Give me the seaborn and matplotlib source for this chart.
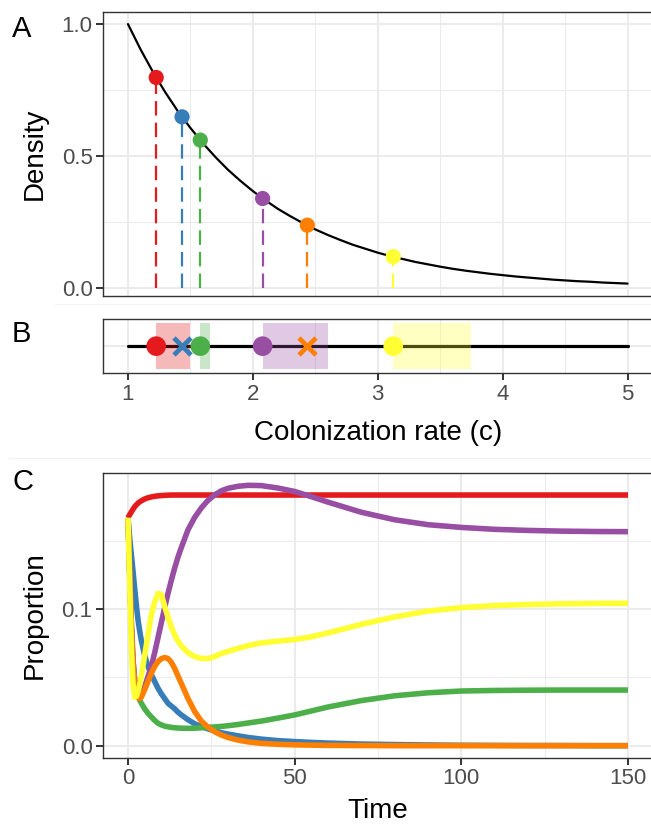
import matplotlib
matplotlib.use("Agg")
import matplotlib.pyplot as plt
import seaborn as sns
import pandas as pd
from matplotlib.ticker import FixedLocator
from matplotlib.lines import Line2D

sns.set_theme(style="white")
plt.rcParams["font.family"] = ["Liberation Sans", "DejaVu Sans"]

# ---------------- data ----------------
species = ["s1", "s2", "s3", "s4", "s5", "s6"]
colors = ["#E41A1C", "#377EB8", "#4DAF4A", "#984EA3", "#FF7F00", "#FFFF33"]

# Panel A: density curve over colonization rate
c_grid = [1.0, 1.1, 1.2, 1.3, 1.4, 1.5, 1.6, 1.7, 1.8, 1.9, 2.0, 2.1, 2.2, 2.3,
          2.4, 2.5, 2.6, 2.7, 2.8, 2.9, 3.0, 3.1, 3.2, 3.3, 3.4, 3.5, 3.6, 3.7,
          3.8, 3.9, 4.0, 4.1, 4.2, 4.3, 4.4, 4.5, 4.6, 4.7, 4.8, 4.9, 5.0]
density_curve = [1.000, 0.905, 0.819, 0.741, 0.670, 0.607, 0.549, 0.497, 0.449,
                 0.407, 0.368, 0.333, 0.301, 0.273, 0.247, 0.223, 0.202, 0.183,
                 0.165, 0.150, 0.135, 0.122, 0.111, 0.100, 0.091, 0.082, 0.074,
                 0.067, 0.061, 0.055, 0.050, 0.045, 0.041, 0.037, 0.033, 0.030,
                 0.027, 0.025, 0.022, 0.020, 0.018]

# species colonization rates and densities
sp_c = [1.226, 1.433, 1.579, 2.078, 2.436, 3.124]
sp_density = [0.798, 0.649, 0.561, 0.340, 0.239, 0.120]

# Panel B: survival and niche extent
sp_survives = [True, False, True, True, False, True]
sp_niche_end = [1.50, None, 1.66, 2.60, None, 3.75]

# Panel C: time series of proportions
time = [0, 0.5, 1, 1.5, 2, 2.5, 3, 3.5, 4, 5, 6, 7, 8, 9, 10, 11, 12, 13, 14, 15,
        16, 18, 20, 22, 24, 26, 28, 30, 33, 36, 40, 45, 50, 55, 60, 70, 80, 90,
        100, 110, 120, 130, 140, 150]
prop_red = [0.1667, 0.169, 0.171, 0.173, 0.1748, 0.1762, 0.1774, 0.1784, 0.1792,
            0.1805, 0.1814, 0.182, 0.1825, 0.1828, 0.183, 0.1832, 0.1833, 0.1834,
            0.1834, 0.1834, 0.1834, 0.1834, 0.1834, 0.1834, 0.1834, 0.1834,
            0.1834, 0.1834, 0.1834, 0.1834, 0.1834, 0.1834, 0.1834, 0.1834,
            0.1834, 0.1834, 0.1834, 0.1834, 0.1834, 0.1834, 0.1834, 0.1834,
            0.1834, 0.1834]
prop_blue = [0.1667, 0.152, 0.14, 0.128, 0.115, 0.103, 0.092, 0.084, 0.077, 0.066,
             0.058, 0.052, 0.047, 0.042, 0.038, 0.0345, 0.031, 0.029, 0.027,
             0.0245, 0.0225, 0.019, 0.016, 0.014, 0.0123, 0.0108, 0.0095, 0.0085,
             0.0072, 0.006, 0.0048, 0.0037, 0.003, 0.0024, 0.0019, 0.0012, 0.0008,
             0.0005, 0.0003, 0.0002, 0.0001, 0.0001, 0.0, 0.0]
prop_green = [0.1667, 0.125, 0.088, 0.062, 0.048, 0.041, 0.0365, 0.0335, 0.031,
              0.027, 0.0237, 0.021, 0.0185, 0.0164, 0.0152, 0.0143, 0.0138,
              0.0134, 0.0131, 0.0129, 0.0128, 0.0127, 0.0128, 0.0131, 0.0134,
              0.0137, 0.0141, 0.0146, 0.0155, 0.0166, 0.018, 0.0202, 0.0225,
              0.0254, 0.0283, 0.033, 0.0365, 0.0387, 0.040, 0.0404, 0.0406,
              0.0407, 0.0407, 0.0407]
prop_purple = [0.1667, 0.128, 0.09, 0.063, 0.048, 0.04, 0.037, 0.0365, 0.038,
               0.043, 0.0505, 0.058, 0.068, 0.079, 0.09, 0.101, 0.1115, 0.121,
               0.13, 0.138, 0.145, 0.158, 0.167, 0.174, 0.1795, 0.1835, 0.1865,
               0.1883, 0.1898, 0.1905, 0.1903, 0.1885, 0.186, 0.1822, 0.1782,
               0.1708, 0.1653, 0.1617, 0.1597, 0.1583, 0.1575, 0.157, 0.1567,
               0.1566]
prop_orange = [0.1667, 0.128, 0.088, 0.06, 0.045, 0.038, 0.035, 0.0345, 0.0355,
               0.041, 0.047, 0.053, 0.058, 0.0615, 0.0637, 0.0645, 0.0638, 0.061,
               0.0565, 0.051, 0.0455, 0.0345, 0.025, 0.018, 0.0135, 0.0102,
               0.0078, 0.006, 0.0041, 0.0028, 0.0017, 0.001, 0.0006, 0.0004,
               0.0002, 0.0001, 0.0, 0.0, 0.0, 0.0, 0.0, 0.0, 0.0, 0.0]
prop_yellow = [0.1667, 0.118, 0.072, 0.045, 0.0355, 0.036, 0.0395, 0.045, 0.051,
               0.066, 0.081, 0.096, 0.105, 0.1115, 0.1105, 0.102, 0.094, 0.087,
               0.081, 0.0765, 0.073, 0.068, 0.0652, 0.0638, 0.0637, 0.0652,
               0.0675, 0.069, 0.0712, 0.0732, 0.0752, 0.0765, 0.0777, 0.0797,
               0.0825, 0.0888, 0.0942, 0.0985, 0.1010, 0.1025, 0.1033, 0.1038,
               0.1041, 0.1042]

# ---------------- figure ----------------
W, H = 651, 824
fig = plt.figure(figsize=(W / 100, H / 100), dpi=100)


def box(l, t, r, b):
    return [l / W, 1 - b / H, (r - l) / W, (b - t) / H]


axA = fig.add_axes(box(103, 11.7, 652.5, 296))
axB = fig.add_axes(box(103, 319, 652.5, 373.3))
axC = fig.add_axes(box(103, 473.3, 653, 757.7))

# faint plot-background separators
fig.add_artist(Line2D([55 / W, 1], [1 - 304 / H] * 2, color="#F3F3F3", lw=0.8))
fig.add_artist(Line2D([8 / W, 1], [1 - 458 / H] * 2, color="#F3F3F3", lw=0.8))

GRID = "#EBEBEB"
TICKLAB = "#4D4D4D"
FRAME = "#333333"
TICKSIZE = 16
TITLESIZE = 20


def style(ax, xmaj, xmin, ymaj, ymin):
    ax.set_facecolor("white")
    for s in ax.spines.values():
        s.set_color(FRAME)
        s.set_linewidth(1.0)
        s.set_visible(True)
    ax.xaxis.set_major_locator(FixedLocator(xmaj))
    ax.xaxis.set_minor_locator(FixedLocator(xmin))
    ax.yaxis.set_major_locator(FixedLocator(ymaj))
    ax.yaxis.set_minor_locator(FixedLocator(ymin))
    ax.grid(which="major", color=GRID, lw=1.5)
    ax.grid(which="minor", color=GRID, lw=0.75)
    ax.set_axisbelow(True)
    ax.tick_params(which="major", labelsize=TICKSIZE, labelcolor=TICKLAB,
                   color=FRAME, length=5, width=1.4, pad=2.5,
                   bottom=True, left=True)
    ax.tick_params(which="minor", length=0)


# ---- Panel A ----
style(axA, [1, 2, 3, 4, 5], [1.5, 2.5, 3.5, 4.5], [0.0, 0.5, 1.0], [0.25, 0.75])
sns.lineplot(x=c_grid, y=density_curve, color="black", lw=1.6, ax=axA,
             sort=False, estimator=None)
for c, d, col in zip(sp_c, sp_density, colors):
    axA.vlines(c, 0, d, colors=col, lw=1.6, linestyles=(0, (6.5, 3.2)), zorder=2)
sns.scatterplot(x=sp_c, y=sp_density, hue=species, palette=colors, s=120,
                linewidth=0, legend=False, ax=axA, zorder=4)
axA.set_xlim(0.8, 5.2)
axA.set_ylim(-0.029, 1.047)
axA.set_yticklabels(["0.0", "0.5", "1.0"], fontsize=TICKSIZE)
axA.tick_params(axis="x", length=0, labelbottom=False)
axA.set_xlabel("")
axA.set_ylabel("Density", fontsize=TITLESIZE, color="black")
axA.yaxis.set_label_coords(-0.100, 0.5)

# ---- Panel B ----
style(axB, [1, 2, 3, 4, 5], [1.5, 2.5, 3.5, 4.5], [0.0], [])
sns.lineplot(x=[c_grid[0], c_grid[-1]], y=[0, 0], color="black", lw=2.3,
             ax=axB, sort=False, estimator=None)
for c, e, col, alive in zip(sp_c, sp_niche_end, colors, sp_survives):
    if alive:
        axB.axvspan(c, e, ymin=0.075, ymax=0.925, color=col, alpha=0.3, lw=0,
                    zorder=3)
alive_c = [c for c, a in zip(sp_c, sp_survives) if a]
alive_col = [col for col, a in zip(colors, sp_survives) if a]
alive_sp = [s for s, a in zip(species, sp_survives) if a]
dead_c = [c for c, a in zip(sp_c, sp_survives) if not a]
dead_col = [col for col, a in zip(colors, sp_survives) if not a]
sns.scatterplot(x=alive_c, y=[0] * len(alive_c), hue=alive_sp,
                palette=alive_col, s=200, linewidth=0, legend=False, ax=axB,
                zorder=5)
for c, col in zip(dead_c, dead_col):
    axB.scatter([c], [0], marker="x", s=150, color=col, linewidths=3.4,
                zorder=5)
axB.set_xlim(0.8, 5.2)
axB.set_ylim(-1, 1)
axB.set_xticklabels(["1", "2", "3", "4", "5"], fontsize=TICKSIZE)
axB.tick_params(axis="y", length=0, labelleft=False)
axB.set_ylabel("")
axB.set_xlabel("Colonization rate (c)", fontsize=TITLESIZE, color="black")
axB.xaxis.set_label_coords(0.5, -0.855)

# ---- Panel C ----
style(axC, [0, 50, 100, 150], [25, 75, 125], [0.0, 0.1], [0.05, 0.15])
series = [prop_red, prop_blue, prop_green, prop_purple, prop_orange, prop_yellow]
df = pd.DataFrame({
    "time": time * len(species),
    "proportion": [v for s in series for v in s],
    "species": [sp for sp in species for _ in time],
})
sns.lineplot(data=df, x="time", y="proportion", hue="species",
             hue_order=species, palette=colors, lw=4.0, legend=False,
             estimator=None, sort=False, ax=axC, solid_capstyle="butt")
axC.set_xlim(-7.5, 157.5)
axC.set_ylim(-0.0088, 0.1993)
axC.set_xticklabels(["0", "50", "100", "150"], fontsize=TICKSIZE)
axC.set_yticklabels(["0.0", "0.1"], fontsize=TICKSIZE)
axC.set_xlabel("Time", fontsize=TITLESIZE, color="black")
axC.set_ylabel("Proportion", fontsize=TITLESIZE, color="black")
axC.yaxis.set_label_coords(-0.100, 0.5)
axC.xaxis.set_label_coords(0.5, -0.14)

# panel tags
for lab, yb in [("A", 37), ("B", 342.5), ("C", 489.5)]:
    fig.text(12 / W, 1 - yb / H, lab, fontsize=21, color="black",
             ha="left", va="baseline")

fig.savefig("out.png", dpi=100)
